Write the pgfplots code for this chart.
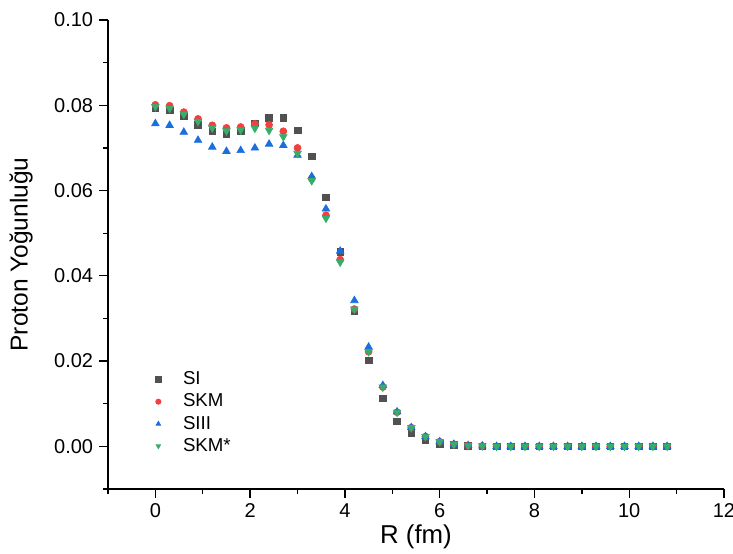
\documentclass[border=0pt]{standalone}
\usepackage{fontspec}
\setmainfont{Liberation Sans}
\usepackage{pgfplots}
\usepackage{pgfplotstable}
\pgfplotsset{compat=1.18}
\usetikzlibrary{calc}
\definecolor{cSI}{HTML}{515151}
\definecolor{cSKM}{HTML}{F14040}
\definecolor{cSIII}{HTML}{1A6FDF}
\definecolor{cSKMs}{HTML}{37AD6B}

\pgfplotstableread{
R    SI     SKM    SIII   SKMs
0.0  0.0794 0.0801 0.0757 0.0797
0.3  0.0788 0.0799 0.0753 0.0793
0.6  0.0774 0.0784 0.0737 0.0779
0.9  0.0754 0.0768 0.0718 0.0762
1.2  0.0739 0.0753 0.0702 0.0747
1.5  0.0733 0.0747 0.0692 0.0740
1.8  0.0740 0.0749 0.0694 0.0742
2.1  0.0758 0.0756 0.0700 0.0746
2.4  0.0770 0.0754 0.0709 0.0741
2.7  0.0770 0.0739 0.0706 0.0726
3.0  0.0741 0.0700 0.0683 0.0687
3.3  0.0680 0.0628 0.0633 0.0623
3.6  0.0584 0.0542 0.0557 0.0535
3.9  0.0457 0.0438 0.0458 0.0432
4.2  0.0318 0.0322 0.0342 0.0322
4.5  0.0202 0.0222 0.0233 0.0222
4.8  0.0113 0.0139 0.0143 0.0139
5.1  0.0059 0.0080 0.0081 0.0080
5.4  0.0031 0.0044 0.0044 0.0044
5.7  0.0014 0.0023 0.0023 0.0023
6.0  0.0006 0.0011 0.0011 0.0011
6.3  0.0003 0.0005 0.0005 0.0005
6.6  0.0001 0.0002 0.0002 0.0002
6.9  0.0000 0.0001 0.0001 0.0001
7.2  0.0000 0.0000 0.0000 0.0000
7.5  0.0000 0.0000 0.0000 0.0000
7.8  0.0000 0.0000 0.0000 0.0000
8.1  0.0000 0.0000 0.0000 0.0000
8.4  0.0000 0.0000 0.0000 0.0000
8.7  0.0000 0.0000 0.0000 0.0000
9.0  0.0000 0.0000 0.0000 0.0000
9.3  0.0000 0.0000 0.0000 0.0000
9.6  0.0000 0.0000 0.0000 0.0000
9.9  0.0000 0.0000 0.0000 0.0000
10.2 0.0000 0.0000 0.0000 0.0000
10.5 0.0000 0.0000 0.0000 0.0000
10.8 0.0000 0.0000 0.0000 0.0000
}\density

\begin{document}
\begin{tikzpicture}
\begin{axis}[
  scale only axis,
  width=369.6pt, height=281.4pt,
  xmin=-1, xmax=12, ymin=-0.01, ymax=0.10,
  axis lines=left, axis line style={-, black, line width=0.8pt},
  xtick={0,2,...,12}, minor xtick={-1,1,...,11},
  ytick={0,0.02,...,0.1}, minor ytick={-0.01,0.01,...,0.09},
  tick align=outside, tick style={black, line width=0.8pt},
  major tick length=5.4pt, minor tick length=3pt,
  /pgf/number format/assume math mode=true,
  yticklabel style={/pgf/number format/.cd, fixed, fixed zerofill, precision=2},
  xticklabel style={/pgf/number format/fixed},
  ticklabel style={font=\fontsize{12}{14}\selectfont},
  xlabel={R (fm)}, ylabel={Proton Yoğunluğu},
  xlabel style={font=\fontsize{15.5}{17}\selectfont, yshift=3pt},
  ylabel style={font=\fontsize{14.7}{16}\selectfont, yshift=6pt},
  clip=false,
  legend image code/.code={\path[draw=none] (0cm,0cm) -- (0.75cm,0cm);
    \draw[mark size=1.6pt] plot coordinates {(0.3cm,0cm)};},
  legend style={draw=none, fill=none, at={(axis description cs:0.05,0.265)},
    anchor=north west, font=\fontsize{11.2}{13}\selectfont,
    row sep=0pt},
  legend cell align=left,
]
\addplot[only marks, mark=square*, mark size=2pt, color=cSI] table[x=R,y=SI] {\density};
\addlegendentry{SI}
\addplot[only marks, mark=*, mark size=2.1pt, color=cSKM] table[x=R,y=SKM] {\density};
\addlegendentry{SKM}
\addplot[only marks, mark=triangle*, mark size=2.6pt, color=cSIII] table[x=R,y=SIII] {\density};
\addlegendentry{SIII}
\addplot[only marks, mark=triangle*, mark options={rotate=180}, mark size=2.6pt, color=cSKMs] table[x=R,y=SKMs] {\density};
\addlegendentry{SKM*}
\end{axis}
\pgfresetboundingbox
\path ($(current axis.south west)+(-64.8pt,-39pt)$) rectangle ($(current axis.north east)+(5.4pt,12pt)$);
\end{tikzpicture}
\end{document}
